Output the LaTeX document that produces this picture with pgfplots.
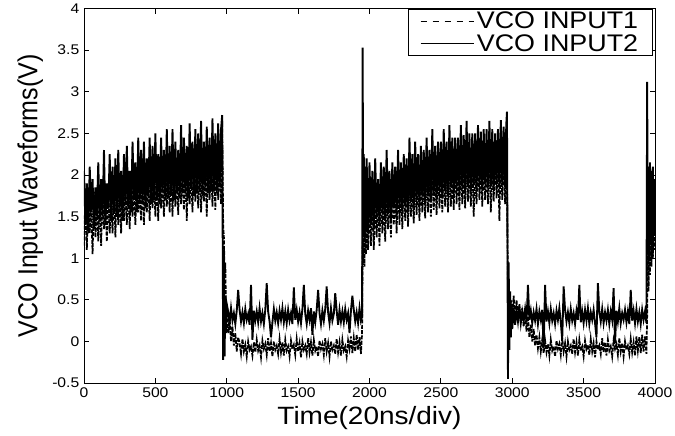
\documentclass[border=0pt]{standalone}
\usepackage{fontspec}
\setmainfont{Liberation Sans}[FakeStretch=1.12]
\newfontfamily\yfont{Liberation Sans}
\usepackage{graphicx}
\usepackage{pgfplots}
\pgfplotsset{compat=1.18}
\begin{document}
\begin{tikzpicture}
\begin{axis}[
  name=ax,
  scale only axis,
  width=428.25pt, height=280.9pt,
  xmin=0, xmax=4000, ymin=-0.5, ymax=4,
  xtick={0,500,...,4000},
  ytick={-0.5,0,0.5,1,1.5,2,2.5,3,3.5,4},
  tick align=inside,
  major tick length=3.75pt,
  axis line style={line width=0.6pt},
  every tick/.style={line width=0.6pt, black},
  /pgf/number format/assume math mode=true,
  /pgf/number format/.cd, fixed, 1000 sep={},
  /pgfplots/.cd,
  tick label style={font=\fontsize{10.5}{12}\selectfont},
  xlabel={Time(20ns/div)},
  ylabel={\yfont\scalebox{1}[1.1]{VCO Input Waveforms(V)}},
  label style={font=\fontsize{18.75}{20}\selectfont},
  legend style={at={(rel axis cs:0.997,1)}, anchor=north east, draw=black, line width=0.6pt,
    font=\fontsize{18}{19}\selectfont, inner xsep=9pt, inner ysep=0pt, row sep=-1pt, cells={anchor=west}},
  legend image code/.code={\draw[#1] (0pt,0pt) -- (40pt,0pt);},
]
\addlegendimage{black, line width=0.6pt, dash pattern=on 5pt off 4pt}
\addlegendentry{VCO INPUT1}
\addlegendimage{black, line width=0.6pt}
\addlegendentry{VCO INPUT2}
\addplot[forget plot, black, line width=1.3pt, line join=miter, dash pattern=on 3pt off 1pt] coordinates {
(0,1.15)(10,1.75)(20,1.10)(30,1.85)(40,1.30)(50,1.65)(60,1.05)(70,1.80)(80,1.25)(90,1.70)
(100,1.20)(110,1.80)(120,1.15)(130,1.90)(140,1.35)(150,1.70)(160,1.20)(170,1.85)(180,1.30)(190,1.75)
(200,1.30)(210,1.90)(220,1.25)(230,1.95)(240,1.40)(250,1.80)(260,1.30)(270,2.00)(280,1.45)(290,1.85)
(300,1.40)(310,1.95)(320,1.35)(330,2.05)(340,1.50)(350,1.85)(360,1.40)(370,2.05)(380,1.55)(390,1.90)
(400,1.45)(410,2.05)(420,1.40)(430,2.10)(440,1.55)(450,1.95)(460,1.45)(470,2.10)(480,1.60)(490,2.00)
(500,1.50)(510,2.10)(520,1.45)(530,2.15)(540,1.60)(550,2.00)(560,1.50)(570,2.15)(580,1.62)(590,2.05)
(600,1.55)(610,2.15)(620,1.50)(630,2.20)(640,1.62)(650,2.05)(660,1.52)(670,2.20)(680,1.65)(690,2.10)
(700,1.58)(710,2.20)(720,1.45)(730,2.25)(740,1.65)(750,2.10)(760,1.55)(770,2.25)(780,1.68)(790,2.15)
(800,1.60)(810,2.25)(820,1.55)(830,2.30)(840,1.68)(850,2.15)(860,1.50)(870,2.28)(880,1.70)(890,2.20)
(900,1.62)(910,2.30)(920,1.58)(930,2.35)(940,1.70)(950,2.20)(960,1.65)(968,2.65)(975,1.40)(980,1.25)
(985,0.80)(990,0.95)(995,0.30)(1000,0.45)(1010,0.10)(1020,0.28)(1030,0.00)(1040,0.18)(1050,-0.05)(1060,0.10)
(1070,-0.12)(1080,0.05)(1090,-0.02)(1100,-0.15)(1110,0.03)(1120,-0.12)(1130,-0.04)(1140,-0.18)(1150,0.00)(1160,-0.10)
(1170,-0.06)(1180,-0.17)(1190,-0.01)(1200,-0.13)(1210,0.02)(1220,-0.11)(1230,-0.05)(1240,-0.19)(1250,0.01)(1260,-0.09)
(1270,-0.03)(1280,-0.16)(1290,0.04)(1300,-0.12)(1310,-0.02)(1320,-0.18)(1330,0.00)(1340,-0.10)(1350,-0.05)(1360,-0.15)
(1370,0.03)(1380,-0.13)(1390,-0.01)(1400,-0.17)(1410,0.02)(1420,-0.11)(1430,-0.06)(1440,-0.18)(1450,0.01)(1460,-0.09)
(1470,-0.04)(1480,-0.16)(1490,0.03)(1500,-0.12)(1510,-0.02)(1520,-0.19)(1530,0.00)(1540,-0.10)(1550,-0.05)(1560,-0.15)
(1570,0.04)(1580,-0.13)(1590,-0.01)(1600,-0.17)(1610,0.02)(1620,-0.11)(1630,-0.06)(1640,-0.18)(1650,0.01)(1660,-0.09)
(1670,-0.03)(1680,-0.16)(1690,0.04)(1700,-0.12)(1710,-0.02)(1720,-0.18)(1730,0.00)(1740,-0.10)(1750,-0.05)(1760,-0.15)
(1770,0.03)(1780,-0.13)(1790,-0.01)(1800,-0.17)(1810,0.02)(1820,-0.11)(1830,-0.06)(1840,-0.18)(1850,0.01)(1860,-0.09)
(1870,0.06)(1880,-0.14)(1890,0.04)(1900,-0.12)(1910,0.08)(1920,-0.10)(1930,0.05)(1940,-0.15)(1948,0.10)(1952,1.20)
(1956,0.95)(1960,1.60)(1965,0.90)(1970,1.70)(1975,1.05)(1980,1.75)(1990,1.10)(2000,1.80)
(2010,1.15)(2020,1.80)(2030,1.10)(2040,1.85)(2050,1.25)(2060,1.75)(2070,1.15)(2080,1.90)(2090,1.30)(2100,1.80)
(2110,1.20)(2120,1.90)(2130,1.35)(2140,1.85)(2150,1.25)(2160,1.95)(2170,1.40)(2180,1.85)(2190,1.30)(2200,2.00)
(2210,1.40)(2220,1.90)(2230,1.35)(2240,2.05)(2250,1.45)(2260,1.95)(2270,1.38)(2280,2.05)(2290,1.50)(2300,1.95)
(2310,1.42)(2320,2.10)(2330,1.52)(2340,2.00)(2350,1.45)(2360,2.10)(2370,1.55)(2380,2.00)(2390,1.48)(2400,2.15)
(2410,1.55)(2420,2.05)(2430,1.50)(2440,2.15)(2450,1.58)(2460,2.05)(2470,1.52)(2480,2.20)(2490,1.60)(2500,2.10)
(2510,1.55)(2520,2.20)(2530,1.62)(2540,2.10)(2550,1.55)(2560,2.22)(2570,1.62)(2580,2.12)(2590,1.58)(2600,2.25)
(2610,1.65)(2620,2.15)(2630,1.58)(2640,2.25)(2650,1.65)(2660,2.15)(2670,1.60)(2680,2.28)(2690,1.68)(2700,2.18)
(2710,1.62)(2720,2.30)(2730,1.50)(2740,2.20)(2750,1.65)(2760,2.30)(2770,1.70)(2780,2.20)(2790,1.62)(2800,2.32)
(2810,1.70)(2820,2.22)(2830,1.65)(2840,2.32)(2850,1.55)(2860,2.25)(2870,1.68)(2880,2.35)(2890,1.72)(2900,2.25)
(2910,1.45)(2920,2.35)(2930,1.70)(2940,2.28)(2950,1.65)(2958,2.30)(2963,2.00)(2970,0.60)(2975,0.20)(2980,0.55)
(2985,0.15)(2990,0.50)(3000,0.30)(3010,0.55)(3020,0.25)(3030,0.50)(3040,0.28)(3050,0.45)(3060,0.22)(3070,0.40)
(3080,0.18)(3090,0.35)(3100,0.12)(3110,0.30)(3120,0.05)(3130,0.20)(3140,0.00)(3150,0.15)(3160,-0.05)(3170,0.08)
(3180,-0.08)(3190,0.05)(3200,-0.12)(3210,0.02)(3220,-0.14)
(3230,0.01)(3240,-0.13)(3250,-0.03)(3260,-0.17)(3270,0.02)(3280,-0.11)(3290,-0.06)(3300,-0.18)(3310,0.01)(3320,-0.09)
(3330,-0.03)(3340,-0.16)(3350,0.04)(3360,-0.12)(3370,-0.02)(3380,-0.18)(3390,0.00)(3400,-0.10)(3410,-0.05)(3420,-0.15)
(3430,0.03)(3440,-0.13)(3450,-0.01)(3460,-0.17)(3470,0.02)(3480,-0.11)(3490,-0.06)(3500,-0.18)(3510,0.01)(3520,-0.09)
(3530,-0.04)(3540,-0.16)(3550,0.03)(3560,-0.12)(3570,-0.02)(3580,-0.19)(3590,0.00)(3600,-0.10)(3610,-0.05)(3620,-0.15)
(3630,0.04)(3640,-0.13)(3650,-0.01)(3660,-0.17)(3670,0.02)(3680,-0.11)(3690,-0.06)(3700,-0.18)(3710,0.01)(3720,-0.09)
(3730,-0.03)(3740,-0.16)(3750,0.04)(3760,-0.12)(3770,-0.02)(3780,-0.18)(3790,0.00)(3800,-0.10)(3810,-0.05)(3820,-0.15)
(3830,0.03)(3840,-0.13)(3850,-0.01)(3860,-0.17)(3870,0.06)(3880,-0.11)(3890,0.05)(3900,-0.14)(3910,0.08)(3920,-0.12)
(3930,0.06)(3940,-0.15)(3945,0.30)(3950,1.30)(3955,0.60)(3960,1.45)(3965,0.80)(3970,1.55)(3975,0.90)(3980,1.65)
(3985,1.00)(3990,1.70)(3995,1.10)(4000,1.60)
};
\addplot[forget plot, black, line width=1.4pt, line join=miter] coordinates {
(0,2.05)(10,1.40)(20,1.90)(30,1.30)(40,2.10)(50,1.55)(60,1.95)(70,1.35)(80,1.85)(90,1.50)
(100,2.15)(110,1.45)(120,1.95)(130,1.50)(140,2.30)(150,1.40)(160,1.90)(170,1.60)(180,2.25)(190,1.45)
(200,2.10)(210,1.55)(220,2.20)(230,1.50)(240,2.30)(250,1.60)(260,2.05)(270,1.45)(280,2.25)(290,1.65)
(300,2.35)(310,1.60)(320,2.05)(330,1.55)(340,2.40)(350,1.70)(360,2.15)(370,1.55)(380,2.45)(390,1.65)
(400,2.30)(410,1.65)(420,2.40)(430,1.60)(440,2.20)(450,1.75)(460,2.45)(470,1.65)(480,2.35)(490,1.70)
(500,2.50)(510,1.70)(520,2.25)(530,1.65)(540,2.45)(550,1.80)(560,2.30)(570,1.70)(580,2.55)(590,1.75)
(600,2.35)(610,1.75)(620,2.55)(630,1.70)(640,2.40)(650,1.80)(660,2.30)(670,1.72)(680,2.60)(690,1.78)
(700,2.45)(710,1.78)(720,2.35)(730,1.72)(740,2.62)(750,1.85)(760,2.40)(770,1.75)(780,2.55)(790,1.80)
(800,2.50)(810,1.80)(820,2.65)(830,1.75)(840,2.40)(850,1.85)(860,2.58)(870,1.78)(880,2.45)(890,1.82)
(900,2.68)(910,1.80)(920,2.50)(930,1.78)(940,2.62)(950,1.85)(960,2.55)(968,2.72)(975,-0.22)(980,1.10)
(985,-0.18)(990,0.55)(995,0.10)(1000,0.45)
(1010,0.36)(1020,0.22)(1030,0.40)(1040,0.25)(1050,0.34)(1060,0.21)(1070,0.37)(1080,0.62)(1090,0.38)(1100,0.24)
(1110,0.35)(1120,0.22)(1130,0.39)(1140,0.26)(1150,0.33)(1160,0.20)(1170,0.68)(1180,0.02)(1190,0.37)(1200,0.25)
(1210,0.36)(1220,0.23)(1230,0.40)(1240,0.24)(1250,0.34)(1260,0.21)(1270,0.38)(1280,0.70)(1290,0.36)(1300,0.24)
(1310,0.05)(1320,0.23)(1330,0.39)(1340,0.25)(1350,0.35)(1360,0.22)(1370,0.37)(1380,0.26)(1390,0.40)(1400,0.23)
(1410,0.36)(1420,0.22)(1430,0.38)(1440,0.25)(1450,0.34)(1460,0.21)(1470,0.65)(1480,0.26)(1490,0.38)(1500,0.24)
(1510,0.35)(1520,0.22)(1530,0.39)(1540,0.68)(1550,0.33)(1560,0.21)(1570,0.37)(1580,0.26)(1590,0.40)(1600,0.08)
(1610,0.36)(1620,0.23)(1630,0.38)(1640,0.62)(1650,0.34)(1660,0.21)(1670,0.37)(1680,0.25)(1690,0.39)(1700,0.66)
(1710,0.35)(1720,0.22)(1730,0.40)(1740,0.25)(1750,0.33)(1760,0.58)(1770,0.37)(1780,0.20)(1790,0.38)(1800,0.24)
(1810,0.36)(1820,0.23)(1830,0.39)(1840,0.26)(1850,0.34)(1860,0.10)(1870,0.37)(1880,0.55)(1890,0.38)(1900,0.24)
(1910,0.35)(1920,0.22)(1930,0.40)(1940,0.25)(1948,0.30)(1952,3.53)(1956,1.30)(1960,2.25)(1965,1.20)(1970,2.10)
(1975,1.35)(1980,2.20)(1990,1.30)(2000,2.15)
(2010,1.40)(2020,2.05)(2030,1.35)(2040,2.20)(2050,1.50)(2060,1.95)(2070,1.40)(2080,2.15)(2090,1.55)(2100,2.10)
(2110,1.45)(2120,2.30)(2130,1.55)(2140,2.05)(2150,1.45)(2160,2.15)(2170,1.60)(2180,2.10)(2190,1.50)(2200,2.30)
(2210,1.60)(2220,2.15)(2230,1.55)(2240,2.25)(2250,1.65)(2260,2.20)(2270,1.55)(2280,2.45)(2290,1.70)(2300,2.25)
(2310,1.60)(2320,2.40)(2330,1.72)(2340,2.25)(2350,1.62)(2360,2.35)(2370,1.75)(2380,2.30)(2390,1.65)(2400,2.45)
(2410,1.75)(2420,2.30)(2430,1.68)(2440,2.55)(2450,1.78)(2460,2.35)(2470,1.70)(2480,2.40)(2490,1.80)(2500,2.40)
(2510,1.72)(2520,2.55)(2530,1.82)(2540,2.40)(2550,1.75)(2560,2.60)(2570,1.85)(2580,2.45)(2590,1.75)(2600,2.45)
(2610,1.85)(2620,2.45)(2630,1.78)(2640,2.60)(2650,1.85)(2660,2.48)(2670,1.80)(2680,2.65)(2690,1.88)(2700,2.50)
(2710,1.80)(2720,2.50)(2730,1.88)(2740,2.50)(2750,1.82)(2760,2.60)(2770,1.90)(2780,2.52)(2790,1.82)(2800,2.55)
(2810,1.90)(2820,2.55)(2830,1.85)(2840,2.65)(2850,1.88)(2860,2.55)(2870,1.82)(2880,2.50)(2890,1.90)(2900,2.55)
(2910,1.85)(2920,2.66)(2930,1.88)(2940,2.58)(2950,1.85)(2958,2.60)(2963,2.76)(2970,-0.45)(2975,0.95)(2980,-0.10)
(2985,0.60)(2990,0.05)(2995,0.45)(3000,0.15)
(3010,0.40)(3020,0.20)(3030,0.38)(3040,0.24)(3050,0.42)(3060,0.22)(3070,0.36)(3080,0.25)(3090,0.39)(3100,0.23)
(3110,0.68)(3120,0.26)(3130,0.37)(3140,0.22)(3150,0.35)(3160,0.25)(3170,0.39)(3180,0.21)(3190,0.36)(3200,0.26)
(3210,0.38)(3220,-0.08)(3230,0.68)(3240,0.24)(3250,0.36)(3260,0.22)(3270,0.39)(3280,0.25)(3290,0.34)(3300,0.21)
(3310,0.37)(3320,0.26)(3330,0.40)(3340,0.23)(3350,0.02)(3360,0.66)(3370,0.38)(3380,0.24)(3390,0.35)(3400,0.22)
(3410,0.39)(3420,0.25)(3430,0.34)(3440,0.21)(3450,0.37)(3460,0.26)(3470,0.68)(3480,0.23)(3490,0.36)(3500,0.22)
(3510,0.38)(3520,0.25)(3530,0.40)(3540,0.21)(3550,0.35)(3560,0.26)(3570,0.38)(3580,0.22)(3590,0.05)(3600,0.70)
(3610,0.36)(3620,0.24)(3630,0.39)(3640,0.22)(3650,0.35)(3660,0.25)(3670,0.38)(3680,0.21)(3690,0.36)(3700,0.26)
(3710,0.64)(3720,-0.02)(3730,0.37)(3740,0.24)(3750,0.40)(3760,0.22)(3770,0.34)(3780,0.26)(3790,0.38)(3800,0.23)
(3810,0.36)(3820,0.21)(3830,0.62)(3840,0.25)(3850,0.37)(3860,0.22)(3870,0.39)(3880,0.24)(3890,0.35)(3900,0.21)
(3910,0.38)(3920,0.26)(3930,0.36)(3940,0.22)(3945,3.12)(3950,1.20)(3955,2.10)(3960,1.25)(3965,2.15)(3970,1.30)
(3975,2.05)(3980,1.20)(3985,2.10)(3990,1.35)(3995,1.95)(4000,1.30)
};
\end{axis}
\pgfresetboundingbox
\path[use as bounding box] ([xshift=-63pt,yshift=-39pt]ax.south west) rectangle ([xshift=15pt,yshift=6.4pt]ax.north east);
\end{tikzpicture}
\end{document}
